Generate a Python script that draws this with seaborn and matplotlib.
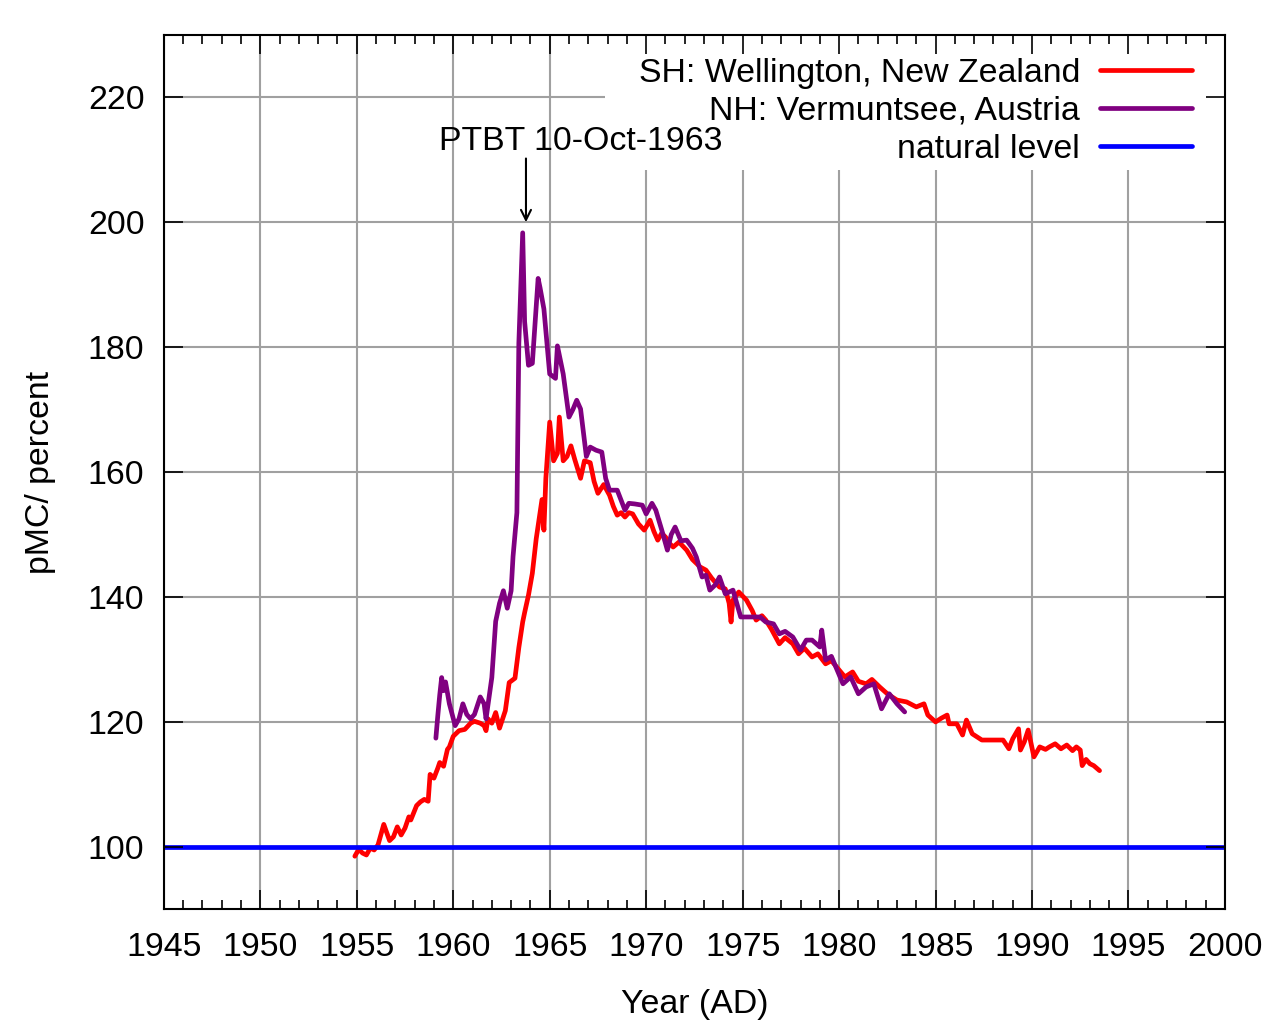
import pandas as pd
import matplotlib
matplotlib.use("Agg")
import matplotlib.pyplot as plt
from matplotlib.patches import Rectangle
from matplotlib.ticker import MultipleLocator
import seaborn as sns

# ---------- DATA ----------
sh_year = [1954.9, 1955.1, 1955.3, 1955.5, 1955.7, 1955.9, 1956.1, 1956.4, 1956.7, 1956.9,
           1957.1, 1957.3, 1957.5, 1957.7, 1957.8, 1958.1, 1958.3, 1958.5, 1958.7, 1958.8,
           1959.0, 1959.2, 1959.3, 1959.5, 1959.7, 1959.8, 1960.0, 1960.3, 1960.6, 1960.9,
           1961.1, 1961.4, 1961.6, 1961.7, 1961.8, 1962.0, 1962.2, 1962.4, 1962.7, 1962.9,
           1963.2, 1963.4, 1963.6, 1963.7, 1963.9, 1964.1, 1964.3, 1964.5, 1964.6, 1964.7,
           1964.8, 1965.0, 1965.2, 1965.4, 1965.5, 1965.7, 1965.9, 1966.1, 1966.3, 1966.6,
           1966.8, 1967.1, 1967.3, 1967.5, 1967.8, 1968.1, 1968.3, 1968.5, 1968.7, 1968.9,
           1969.1, 1969.3, 1969.6, 1969.9, 1970.2, 1970.4, 1970.6, 1970.8, 1971.0, 1971.2,
           1971.4, 1971.7, 1972.1, 1972.4, 1972.8, 1973.1, 1973.4, 1973.8, 1974.1, 1974.3,
           1974.4, 1974.5, 1974.8, 1975.2, 1975.5, 1975.7, 1976.0, 1976.2, 1976.5, 1976.9,
           1977.2, 1977.6, 1977.9, 1978.2, 1978.6, 1978.9, 1979.3, 1979.6, 1980.0, 1980.3,
           1980.7, 1981.0, 1981.4, 1981.7, 1982.1, 1982.5, 1983.0, 1983.5, 1984.0, 1984.4,
           1984.6, 1985.0, 1985.3, 1985.6, 1985.7, 1986.1, 1986.4, 1986.6, 1986.9, 1987.4,
           1988.0, 1988.5, 1988.8, 1989.0, 1989.3, 1989.4, 1989.6, 1989.8, 1990.1, 1990.4,
           1990.7, 1990.9, 1991.2, 1991.5, 1991.8, 1992.1, 1992.3, 1992.5, 1992.6, 1992.8,
           1993.0, 1993.2, 1993.5]
sh_pmc = [98.5, 99.6, 99.0, 98.7, 99.8, 99.5, 100.3, 103.6, 101.0, 101.6,
          103.2, 101.9, 103.0, 104.8, 104.3, 106.6, 107.2, 107.6, 107.3, 111.6,
          111.0, 112.6, 113.5, 112.9, 115.6, 116.0, 117.7, 118.6, 118.8, 119.8,
          120.1, 119.8, 119.4, 118.6, 120.5, 119.8, 121.5, 119.0, 121.8, 126.3,
          127.0, 131.9, 136.0, 137.5, 140.3, 143.8, 149.3, 153.5, 155.6, 150.7,
          159.0, 168.0, 161.8, 163.0, 168.8, 161.8, 162.5, 164.2, 162.0, 159.0,
          161.8, 161.5, 158.5, 156.6, 158.0, 156.3, 154.5, 153.1, 153.5, 152.8,
          153.5, 153.3, 151.7, 150.7, 152.3, 150.5, 149.1, 150.2, 149.6, 148.6,
          148.0, 148.8, 147.5, 146.0, 144.8, 144.3, 143.0, 141.6, 141.3, 139.0,
          136.0, 139.5, 140.8, 139.5, 137.8, 136.3, 137.0, 136.3, 134.8, 132.5,
          133.5, 132.5, 130.9, 131.8, 130.4, 130.9, 129.3, 129.8, 128.3, 127.2,
          128.0, 126.5, 126.1, 126.8, 125.6, 124.5, 123.5, 123.2, 122.4, 122.9,
          121.1, 120.0, 120.6, 121.1, 119.7, 119.7, 117.9, 120.3, 118.1, 117.1,
          117.1, 117.1, 115.7, 117.3, 118.9, 115.5, 116.8, 118.7, 114.4, 116.0,
          115.6, 116.0, 116.5, 115.7, 116.3, 115.4, 116.0, 115.5, 113.0, 114.0,
          113.3, 113.0, 112.2]

nh_year = [1959.1, 1959.2, 1959.3, 1959.4, 1959.5, 1959.6, 1959.8, 1960.1, 1960.3, 1960.5,
           1960.7, 1960.9, 1961.1, 1961.4, 1961.6, 1961.7, 1962.0, 1962.2, 1962.4, 1962.6,
           1962.8, 1963.0, 1963.1, 1963.3, 1963.4, 1963.6, 1963.7, 1963.9, 1964.1, 1964.4,
           1964.5, 1964.7, 1965.0, 1965.3, 1965.4, 1965.7, 1966.0, 1966.2, 1966.4, 1966.6,
           1966.9, 1967.1, 1967.4, 1967.7, 1967.9, 1968.1, 1968.5, 1968.9, 1969.1, 1969.4,
           1969.8, 1970.0, 1970.3, 1970.5, 1970.8, 1971.1, 1971.3, 1971.5, 1971.8, 1972.1,
           1972.4, 1972.6, 1972.9, 1973.1, 1973.3, 1973.6, 1973.8, 1974.1, 1974.5, 1974.9,
           1975.4, 1975.9, 1976.2, 1976.6, 1976.9, 1977.2, 1977.6, 1978.0, 1978.3, 1978.6,
           1979.0, 1979.1, 1979.3, 1979.6, 1979.9, 1980.2, 1980.6, 1981.0, 1981.4, 1981.8,
           1982.2, 1982.6, 1983.0, 1983.4]
nh_pmc = [117.4, 121.0, 124.3, 127.1, 125.0, 126.4, 122.9, 119.4, 120.5, 122.9,
          121.2, 120.5, 121.2, 124.0, 122.9, 120.5, 127.1, 136.1, 139.0, 141.0,
          138.2, 141.0, 146.5, 153.5, 180.6, 198.3, 184.1, 177.1, 177.4, 191.0,
          189.5, 186.1, 175.7, 175.0, 180.2, 175.7, 168.8, 170.0, 171.5, 170.1,
          162.5, 164.0, 163.5, 163.2, 159.0, 157.1, 157.1, 153.9, 155.0, 154.9,
          154.7, 153.3, 155.0, 153.9, 150.8, 147.5, 150.0, 151.2, 149.0, 149.1,
          147.8, 146.4, 143.2, 143.5, 141.1, 142.0, 143.2, 140.5, 141.1, 136.8,
          136.8, 136.8, 136.0, 135.7, 134.1, 134.5, 133.6, 131.5, 133.1, 133.1,
          132.0, 134.7, 129.9, 130.5, 128.3, 126.1, 127.2, 124.5, 125.6, 126.1,
          122.1, 124.5, 122.9, 121.6]

natural_level = 100
ptbt_year = 1963.77   # 10 Oct 1963
ptbt_label = "PTBT 10-Oct-1963"

sh_label = "SH: Wellington, New Zealand"
nh_label = "NH: Vermuntsee, Austria"
nat_label = "natural level"

x_ticks = list(range(1945, 2001, 5))
y_ticks = list(range(100, 221, 20))

df = pd.concat([
    pd.DataFrame({"year": sh_year, "pmc": sh_pmc, "series": sh_label}),
    pd.DataFrame({"year": nh_year, "pmc": nh_pmc, "series": nh_label}),
])

# ---------- STYLE ----------
sns.set_theme(style="white")
plt.rcParams["font.family"] = ["Liberation Sans", "DejaVu Sans"]
FS = 24.4
LW = 3.4

fig = plt.figure(figsize=(12.8, 10.24), dpi=100)
ax = fig.add_axes([0.128, 0.112, 0.829, 0.854])

sns.lineplot(data=df, x="year", y="pmc", hue="series",
             palette={sh_label: "#ff0000", nh_label: "#800080"},
             estimator=None, sort=False, linewidth=LW, ax=ax, zorder=3)
ax.axhline(natural_level, color="#0000ff", linewidth=LW, label=nat_label, zorder=3)

ax.set_xlim(1945, 2000)
ax.set_ylim(90, 230)
ax.set_xticks(x_ticks)
ax.set_yticks(y_ticks)
ax.xaxis.set_minor_locator(MultipleLocator(1))
ax.grid(True, which="major", color="#a0a0a0", lw=1.5)
ax.set_axisbelow(True)
ax.tick_params(which="both", length=0, labelsize=FS, colors="black")
ax.tick_params(axis="x", pad=16)
ax.tick_params(axis="y", pad=14)
for s in ax.spines.values():
    s.set_visible(False)

ax.set_xlabel("Year (AD)", fontsize=FS, labelpad=19, color="black")
ax.set_ylabel("pMC/ percent", fontsize=FS, labelpad=23, color="black")

# white key box over the grid (gnuplot style)
ax.add_patch(Rectangle((0.4157, 0.8455), 0.5843, 0.1545, transform=ax.transAxes,
                       facecolor="white", edgecolor="none", zorder=1))

# annotation
ax.annotate("", xy=(ptbt_year, 200), xytext=(ptbt_year, 210.2),
            arrowprops=dict(arrowstyle="->", lw=1.5, color="black",
                            mutation_scale=18, shrinkA=0, shrinkB=0))
ax.text(1966.6, 213.0, ptbt_label, fontsize=FS, ha="center", va="center",
        color="black", zorder=6)

# legend
h, l = ax.get_legend_handles_labels()
order = [l.index(sh_label), l.index(nh_label), l.index(nat_label)]
leg = ax.legend([h[i] for i in order], [l[i] for i in order],
                loc="upper right", bbox_to_anchor=(0.9689, 0.9735),
                markerfirst=False, fontsize=FS, frameon=False,
                borderaxespad=0, borderpad=0, handlelength=2.7,
                handletextpad=0.6, labelspacing=0.2)
for t in leg.get_texts():
    t.set_color("black")

# ticks and frame on an overlay axes, so they sit above the key box
ax2 = fig.add_axes(ax.get_position(), sharex=ax, sharey=ax)
ax2.set_zorder(ax.get_zorder() + 1)
ax2.patch.set_visible(False)
ax2.grid(False)
ax2.tick_params(which="both", direction="in", top=True, right=True,
                bottom=True, left=True, labelbottom=False, labelleft=False,
                color="black", width=1.2)
ax2.tick_params(which="major", length=13.5)
ax2.tick_params(which="minor", length=6.8)
ax2.tick_params(axis="y", which="minor", left=False, right=False)
for s in ax2.spines.values():
    s.set_visible(True)
    s.set_color("black")
    s.set_linewidth(1.5)

fig.savefig("out.png", dpi=100)
